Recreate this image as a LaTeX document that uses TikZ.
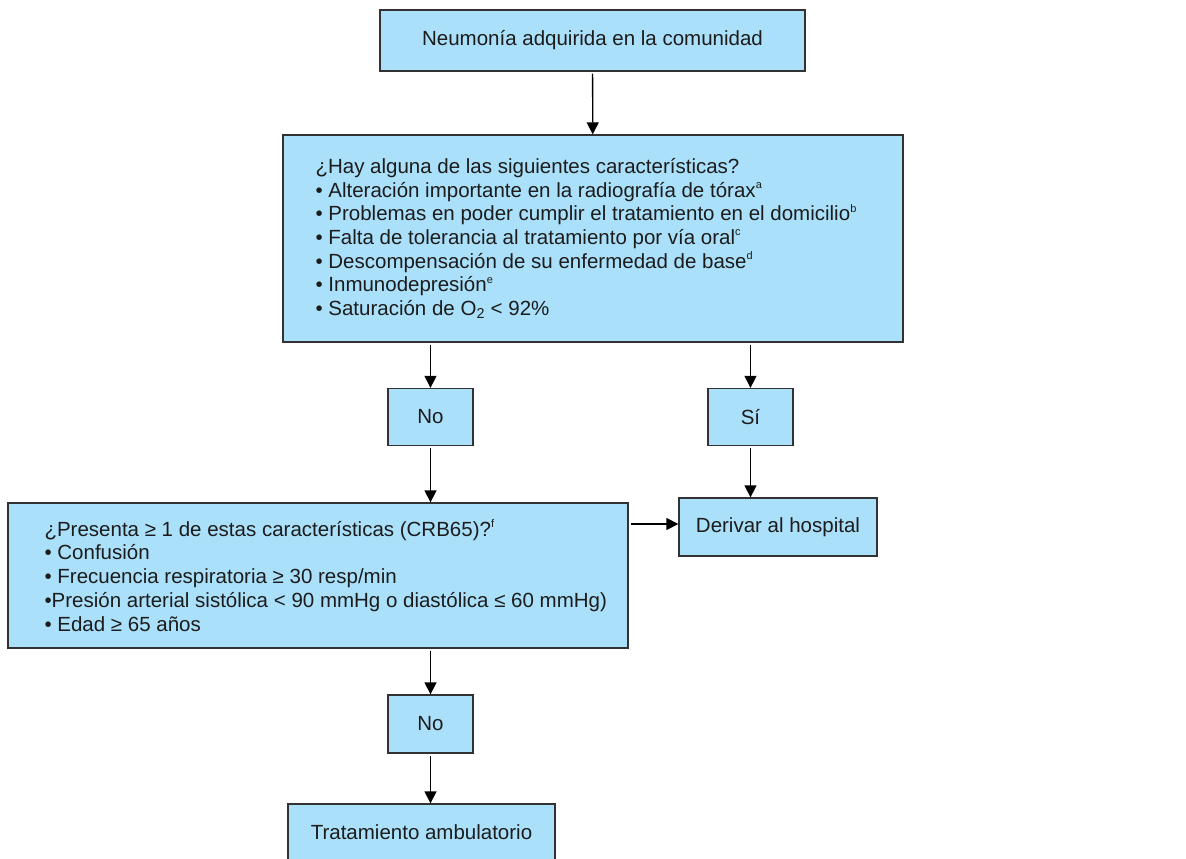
\documentclass[tikz,border=0pt]{standalone}
\usepackage{fontspec}
\setmainfont{Liberation Sans}
\usetikzlibrary{arrows.meta}
\definecolor{boxfill}{RGB}{171,224,250}
\definecolor{boxline}{RGB}{50,50,50}
\definecolor{ink}{RGB}{28,28,28}
\newcommand{\fnmark}[1]{\raisebox{0.42em}{\fontsize{11}{11}\selectfont #1}}

\begin{document}
\begin{tikzpicture}[
    x=1pt, y=-1pt,
    box/.style={draw=boxline,fill=boxfill,line width=1.3pt,inner sep=0pt,
                align=center,text=ink,font=\fontsize{20.5}{23.7}\selectfont},
    txt/.style={inner sep=0pt,align=left,text=ink,font=\fontsize{20.5}{23.7}\selectfont},
    arr/.style={-{Triangle[length=12pt,width=12pt]},line width=1.3pt,shorten <=2pt}
]
\useasboundingbox (0,0) rectangle (1186,859);

% boxes
\node[box, minimum width=425pt, minimum height=61pt] (nac) at (592.5,40.5) {Neumonía adquirida en la comunidad};
\node[box, minimum width=620pt, minimum height=207pt] (crit) at (593,238.5) {};
\node[txt, anchor=west] (crittxt) at ([xshift=33pt]crit.west) {%
  ¿Hay alguna de las siguientes características?\\
  • Alteración importante en la radiografía de tórax\fnmark{a}\\
  • Problemas en poder cumplir el tratamiento en el domicilio\fnmark{b}\\
  • Falta de tolerancia al tratamiento por vía oral\fnmark{c}\\
  • Descompensación de su enfermedad de base\fnmark{d}\\
  • Inmunodepresión\fnmark{e}\\
  • Saturación de O\textsubscript{2} < 92\%};
\node[box, minimum width=85pt, minimum height=57pt] (no1) at (430.5,417) {No};
\node[box, minimum width=85pt, minimum height=57pt] (si)  at (750.5,417) {Sí};
\node[box, minimum width=620pt, minimum height=145pt] (crb) at (318,575.5) {};
\node[txt, anchor=west] (crbtxt) at ([xshift=37pt]crb.west) {%
  ¿Presenta ≥ 1 de estas características (CRB65)?\fnmark{f}\\
  • Confusión\\
  • Frecuencia respiratoria ≥ 30 resp/min\\
  •Presión arterial sistólica < 90 mmHg o diastólica ≤ 60 mmHg)\\
  • Edad ≥ 65 años};
\node[box, minimum width=198pt, minimum height=58pt] (hosp) at (778,527) {Derivar al hospital};
\node[box, minimum width=85pt, minimum height=58pt] (no2) at (430.5,724) {No};
\node[box, minimum width=267pt, minimum height=56pt] (trat) at (421.5,832) {Tratamiento ambulatorio};

% connectors
\draw[arr] (nac) -- (crit);
\draw[arr] (crit.south -| no1.north) -- (no1.north);
\draw[arr] (crit.south -| si.north) -- (si.north);
\draw[arr] (no1.south) -- (no1.south |- crb.north);
\draw[arr] (si.south) -- (si.south |- hosp.north);
\draw[arr] (crb.east |- 0,524) -- (hosp.west |- 0,524);
\draw[arr] (crb.south -| no2.north) -- (no2.north);
\draw[arr] (no2.south) -- (no2.south |- trat.north);
\end{tikzpicture}
\end{document}
